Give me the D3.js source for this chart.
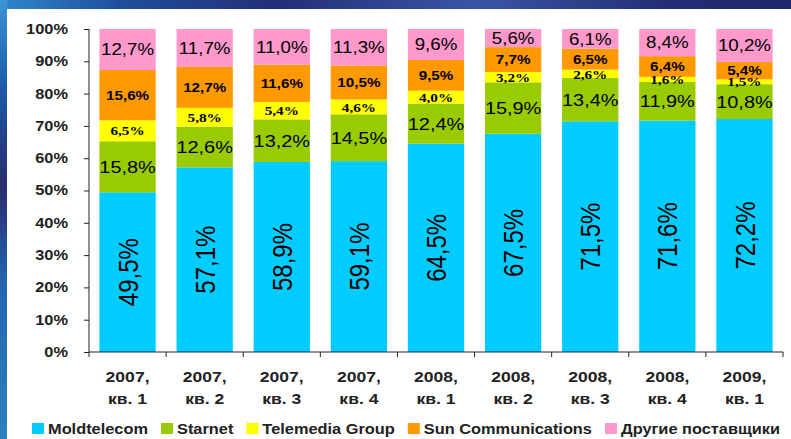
<!DOCTYPE html>
<html>
<head>
<meta charset="utf-8">
<script src="https://cdn.jsdelivr.net/npm/d3@7"></script>
<style>
body { margin: 0; overflow: hidden; background: #fff; }
text { font-family: "Liberation Sans", Arial, sans-serif; }
</style>
</head>
<body>
<script>
// data
var years = ["2007,", "2007,", "2007,", "2007,", "2008,", "2008,", "2008,", "2008,", "2009,"];
var quarters = ["кв. 1", "кв. 2", "кв. 3", "кв. 4", "кв. 1", "кв. 2", "кв. 3", "кв. 4", "кв. 1"];
var seriesNames = ["Moldtelecom", "Starnet", "Telemedia Group", "Sun Communications", "Другие поставщики"];
var moldtelecom = [49.5, 57.1, 58.9, 59.1, 64.5, 67.5, 71.5, 71.6, 72.2];
var starnet     = [15.8, 12.6, 13.2, 14.5, 12.4, 15.9, 13.4, 11.9, 10.8];
var telemedia   = [6.5, 5.8, 5.4, 4.6, 4.0, 3.2, 2.6, 1.6, 1.5];
var sunComm     = [15.6, 12.7, 11.6, 10.5, 9.5, 7.7, 6.5, 6.4, 5.4];
var others      = [12.7, 11.7, 11.0, 11.3, 9.6, 5.6, 6.1, 8.4, 10.2];
var yTicks = [0, 0.1, 0.2, 0.3, 0.4, 0.5, 0.6, 0.7, 0.8, 0.9, 1];

var colors = ["#00ccff", "#99cc00", "#ffff00", "#ff9900", "#ff99cc"];
// label styles per series
var labelStyle = [
  {size: 24, weight: "normal", family: "'Liberation Sans', Arial, sans-serif", rotate: true},
  {size: 17, weight: "normal", family: "'Liberation Sans', Arial, sans-serif"},
  {size: 13, weight: "bold", family: "'Liberation Serif', 'Times New Roman', serif"},
  {size: 13, weight: "bold", family: "'Liberation Sans', Arial, sans-serif"},
  {size: 16, weight: "normal", family: "'Liberation Sans', Arial, sans-serif"}
];
var SX = 1.17; // the original is stretched sideways

var W = 791, H = 439;
var svg = d3.select("body").append("svg").attr("width", W).attr("height", H);

var defs = svg.append("defs");
var gl = defs.append("linearGradient").attr("id", "gl").attr("x1", 0).attr("y1", 0).attr("x2", 0).attr("y2", 1);
gl.append("stop").attr("offset", "0%").attr("stop-color", "#3a94d6");
gl.append("stop").attr("offset", "20%").attr("stop-color", "#1d5aa8");
gl.append("stop").attr("offset", "42%").attr("stop-color", "#2a2c6e");
gl.append("stop").attr("offset", "65%").attr("stop-color", "#2466b0");
gl.append("stop").attr("offset", "100%").attr("stop-color", "#2f7fc0");
var gt = defs.append("linearGradient").attr("id", "gt").attr("x1", 0).attr("y1", 0).attr("x2", 1).attr("y2", 0);
gt.append("stop").attr("offset", "0%").attr("stop-color", "#2f88cc");
gt.append("stop").attr("offset", "15%").attr("stop-color", "#1f4f9c");
gt.append("stop").attr("offset", "35%").attr("stop-color", "#242e78");
gt.append("stop").attr("offset", "60%").attr("stop-color", "#3a55a6");
gt.append("stop").attr("offset", "85%").attr("stop-color", "#232d74");
gt.append("stop").attr("offset", "100%").attr("stop-color", "#1e2868");

svg.append("rect").attr("width", W).attr("height", 9).attr("fill", "url(#gt)");
svg.append("rect").attr("width", 7).attr("height", H).attr("fill", "url(#gl)");
svg.append("rect").attr("x", 7).attr("y", 9).attr("width", W - 7).attr("height", H - 9).attr("fill", "#fff");

var x = d3.scaleBand().domain(d3.range(years.length)).range([89, 783]).paddingInner(0.27).paddingOuter(0.135);
var y = d3.scaleLinear().domain([0, 1]).range([352, 29]);

var rows = years.map(function (d, i) {
  var r = {i: i};
  r[seriesNames[0]] = moldtelecom[i];
  r[seriesNames[1]] = starnet[i];
  r[seriesNames[2]] = telemedia[i];
  r[seriesNames[3]] = sunComm[i];
  r[seriesNames[4]] = others[i];
  return r;
});
var stacked = d3.stack().keys(seriesNames).offset(d3.stackOffsetExpand)(rows);

var fmt = function (v) { return d3.format(".1f")(v).replace(".", ",") + "%"; };

var layers = svg.selectAll("g.layer").data(stacked).enter().append("g").attr("class", "layer")
  .attr("fill", function (d, k) { return colors[k]; });
layers.selectAll("rect").data(function (d) { return d; }).enter().append("rect")
  .attr("x", function (d) { return x(d.data.i); })
  .attr("width", x.bandwidth())
  .attr("y", function (d) { return y(d[1]); })
  .attr("height", function (d) { return y(d[0]) - y(d[1]); });

stacked.forEach(function (layer, k) {
  var st = labelStyle[k];
  svg.append("g").selectAll("text").data(layer).enter().append("text")
    .attr("transform", function (d) {
      var cx = x(d.data.i) + x.bandwidth() / 2, cy = (y(d[0]) + y(d[1])) / 2;
      return "translate(" + cx + "," + cy + ") scale(" + SX + ",1)" + (st.rotate ? " rotate(-90)" : "");
    })
    .attr("text-anchor", "middle").attr("dy", "0.36em")
    .style("font-family", st.family).style("font-size", st.size + "px").style("font-weight", st.weight)
    .attr("fill", "#000")
    .text(function (d) { return fmt(d.data[layer.key]); });
});

// y axis
var yAxis = svg.append("g").attr("transform", "translate(89,0)")
  .call(d3.axisLeft(y).tickValues(yTicks).tickFormat(d3.format(".0%")).tickSize(5).tickPadding(13));
yAxis.select(".domain").attr("stroke", "#222").attr("d", "M0,29V352");
yAxis.selectAll(".tick line").attr("stroke", "#222");
yAxis.selectAll(".tick text")
  .attr("transform", "scale(" + SX + ",1)")
  .style("font-size", "14px").style("font-weight", "bold").attr("fill", "#222")
  .style("font-family", "'Liberation Sans', Arial, sans-serif");

// x axis
svg.append("line").attr("x1", 89).attr("x2", 783).attr("y1", 352).attr("y2", 352).attr("stroke", "#222");
var bounds = d3.range(years.length + 1).map(function (i) { return 89 + i * x.step(); });
svg.append("g").selectAll("line").data(bounds).enter().append("line")
  .attr("x1", function (d) { return d; }).attr("x2", function (d) { return d; })
  .attr("y1", 352).attr("y2", 357).attr("stroke", "#222");
var xl = svg.append("g").selectAll("text").data(years).enter().append("text")
  .attr("transform", function (d, i) { return "translate(" + (x(i) + x.bandwidth() / 2) + ",0) scale(" + SX + ",1)"; })
  .attr("text-anchor", "middle")
  .style("font-size", "15px").style("font-weight", "bold").attr("fill", "#222");
xl.append("tspan").attr("x", 0).attr("y", 382).text(function (d) { return d; });
xl.append("tspan").attr("x", 0).attr("y", 404).text(function (d, i) { return quarters[i]; });

// legend
var lg = svg.append("g");
var lx = 32;
seriesNames.forEach(function (name, k) {
  lg.append("rect").attr("x", lx).attr("y", 423).attr("width", 12).attr("height", 11).attr("fill", colors[k]);
  var t = lg.append("text").attr("transform", "translate(" + (lx + 16) + ",434) scale(" + SX + ",1)")
    .style("font-size", "14px").style("font-weight", "bold").attr("fill", "#222").text(name);
  lx += 16 + t.node().getComputedTextLength() * SX + 13;
});
</script>
</body>
</html>
